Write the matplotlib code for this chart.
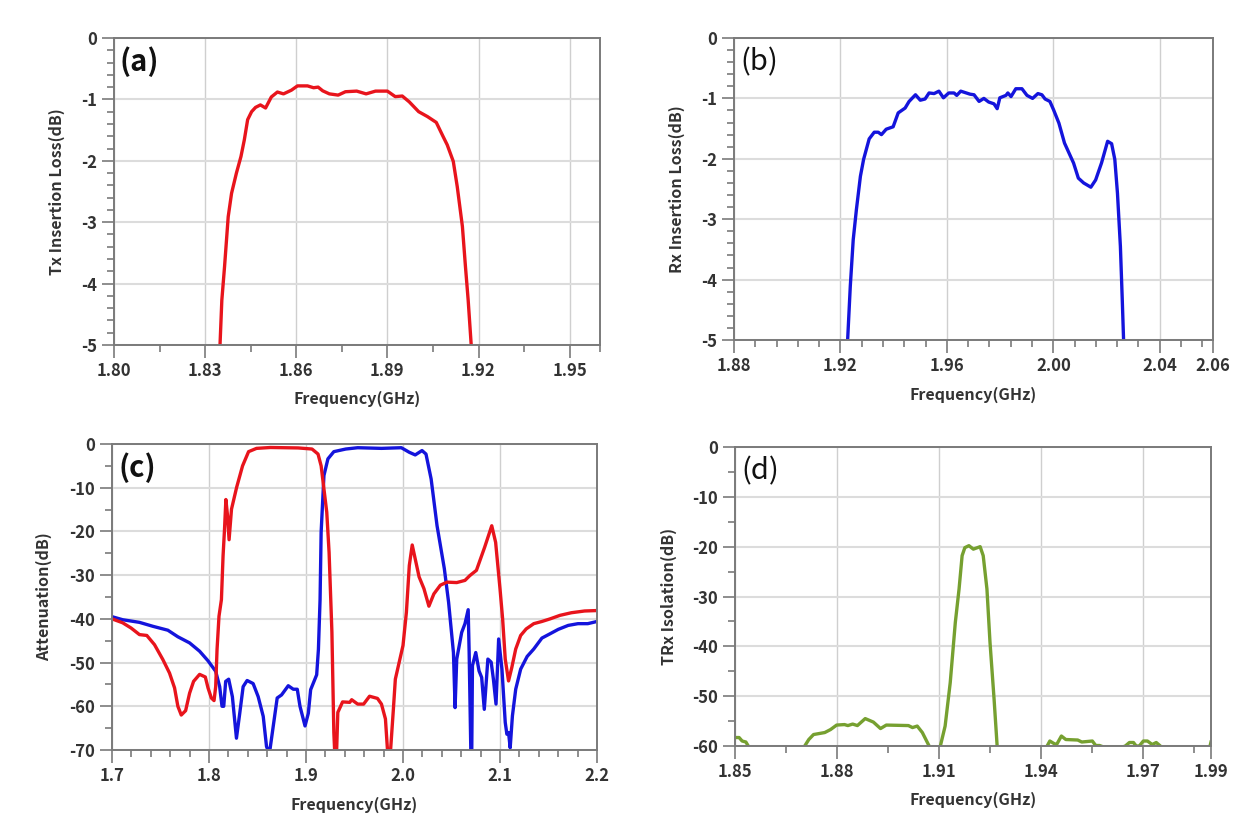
import numpy as np
import matplotlib
matplotlib.use('Agg')
import matplotlib.pyplot as plt

plt.rcParams['font.family'] = ['Noto Sans CJK JP', 'DejaVu Sans']

# (a) Tx insertion loss
tx_freq = [1.8349, 1.8355, 1.8364, 1.8376, 1.8387, 1.8403, 1.8418, 1.8429, 1.844, 1.8453, 1.8466, 1.8482, 1.8499,
           1.8518, 1.8538, 1.8558, 1.8584, 1.8604, 1.8637, 1.8657, 1.8672, 1.8687, 1.8709, 1.8738, 1.8762, 1.8799,
           1.883, 1.8861, 1.89, 1.8926, 1.8949, 1.8972, 1.9003, 1.9032, 1.9061, 1.9082, 1.9097, 1.9117, 1.913,
           1.9147, 1.9157, 1.9166, 1.9176]
tx_loss = [-5, -4.27, -3.72, -2.91, -2.53, -2.2, -1.93, -1.66, -1.33, -1.2, -1.13, -1.09, -1.14,
           -0.96, -0.88, -0.91, -0.85, -0.78, -0.78, -0.81, -0.8, -0.86, -0.91, -0.93, -0.875, -0.865,
           -0.91, -0.865, -0.865, -0.955, -0.945, -1.04, -1.2, -1.28, -1.375, -1.59, -1.74, -2.01, -2.42,
           -3.07, -3.72, -4.27, -5]

# (b) Rx insertion loss
rx_freq = [1.9227, 1.9237, 1.9248, 1.926, 1.9275, 1.9287, 1.9308, 1.9327, 1.9342, 1.9354, 1.9372, 1.9398, 1.9417,
           1.9443, 1.9458, 1.9482, 1.95, 1.9518, 1.9533, 1.9552, 1.957, 1.9587, 1.9607, 1.9627, 1.9637, 1.9652,
           1.9687, 1.9702, 1.9721, 1.9739, 1.9757, 1.9777, 1.9789, 1.9799, 1.9822, 1.9829, 1.9841, 1.9859, 1.9882,
           1.9901, 1.9922, 1.9942, 1.9957, 1.9969, 1.9987, 2.0001, 2.0021, 2.0042, 2.0076, 2.0094, 2.0114, 2.0141,
           2.0159, 2.0181, 2.0204, 2.0219, 2.0231, 2.0241, 2.0252, 2.0259, 2.0264]
rx_loss = [-5, -4.11, -3.34, -2.84, -2.29, -2.01, -1.67, -1.56, -1.56, -1.6, -1.51, -1.47, -1.24,
           -1.16, -1.05, -0.94, -1.03, -1.01, -0.91, -0.92, -0.88, -0.99, -0.91, -0.91, -0.95, -0.88,
           -0.93, -0.94, -1.05, -1.0, -1.06, -1.09, -1.17, -0.99, -0.95, -0.91, -0.97, -0.84, -0.84,
           -0.95, -1.0, -0.92, -0.94, -1.01, -1.05, -1.19, -1.41, -1.74, -2.07, -2.32, -2.4, -2.47,
           -2.35, -2.07, -1.71, -1.75, -2.01, -2.57, -3.45, -4.33, -5]

# (c) wide band attenuation
att_tx_freq = [1.7, 1.711, 1.7197, 1.7283, 1.7359, 1.7438, 1.7524, 1.7593, 1.7645, 1.7679, 1.7714, 1.7759, 1.78,
               1.7841, 1.7903, 1.7962, 1.799, 1.8024, 1.8052, 1.8069, 1.8083, 1.8103, 1.8128, 1.8145, 1.816, 1.8174,
               1.8191, 1.8207, 1.8232, 1.8285, 1.8346, 1.8408, 1.849, 1.8633, 1.8919, 1.9062, 1.9124, 1.9156, 1.9185,
               1.9214, 1.9238, 1.9267, 1.9287, 1.9295, 1.9316, 1.9328, 1.9377, 1.9451, 1.9471, 1.9533, 1.9594, 1.9655,
               1.9737, 1.9778, 1.9819, 1.984, 1.9872, 1.9901, 1.9921, 2.0, 2.0035, 2.0065, 2.0095, 2.0166, 2.0216,
               2.0267, 2.0318, 2.0385, 2.0453, 2.0554, 2.0639, 2.0689, 2.0757, 2.0842, 2.0915, 2.0955, 2.1, 2.1027,
               2.1054, 2.1088, 2.1122, 2.1162, 2.1213, 2.127, 2.1348, 2.1432, 2.1517, 2.1618, 2.1736, 2.1872, 2.2]
att_tx = [-40, -40.9, -42.1, -43.6, -43.8, -45.9, -49.3, -52.4, -55.8, -60, -62, -61, -57,
          -54.3, -52.7, -53.3, -55.8, -58.1, -58.7, -55.5, -47, -39.4, -35.6, -25.6, -19.5, -12.7,
          -16.4, -21.9, -14.9, -9.9, -5, -1.75, -1.0, -0.8, -0.9, -1.15, -2.3, -5, -10.3,
          -15.6, -24.8, -43, -66, -70, -70, -61.4, -59, -59.1, -58.5, -59.5, -59.5, -57.7,
          -58.2, -59.5, -62.9, -70, -70, -60.6, -53.8, -46.1, -38.5, -27.8, -23.1, -30.4, -33.1,
          -37.1, -34.3, -32.3, -31.6, -31.7, -31.2, -30.1, -28.9, -23.6, -18.7, -22.5, -33.1, -40,
          -49.2, -54.2, -51.1, -46.9, -43.8, -42.3, -41.1, -40.6, -40, -39.2, -38.6, -38.2, -38.1]
att_rx_freq = [1.7, 1.711, 1.7283, 1.7421, 1.7576, 1.7679, 1.78, 1.7903, 1.799, 1.8069, 1.811, 1.8134, 1.8152,
               1.8172, 1.8203, 1.8241, 1.8283, 1.8317, 1.8352, 1.8393, 1.8455, 1.8507, 1.8559, 1.8593, 1.8607, 1.8628,
               1.8662, 1.8703, 1.8748, 1.8817, 1.8869, 1.891, 1.8938, 1.899, 1.9024, 1.9048, 1.911, 1.9128, 1.9145,
               1.9156, 1.9185, 1.9226, 1.9287, 1.941, 1.9533, 1.9778, 1.9983, 2.0065, 2.0126, 2.0196, 2.0237, 2.029,
               2.0351, 2.0426, 2.047, 2.052, 2.0537, 2.0554, 2.0605, 2.0639, 2.0672, 2.0682, 2.0699, 2.0709, 2.0716,
               2.075, 2.0784, 2.0811, 2.0838, 2.0875, 2.0909, 2.0932, 2.0959, 2.0986, 2.102, 2.1054, 2.1071, 2.1088,
               2.1105, 2.1128, 2.1162, 2.1213, 2.128, 2.1348, 2.1432, 2.1517, 2.1601, 2.1703, 2.1804, 2.1905, 2.2]
att_rx = [-39.5, -40.2, -40.8, -41.7, -42.6, -44.1, -45.5, -47.4, -49.6, -52, -55.5, -60, -60,
          -54.3, -53.8, -57.8, -67.3, -61.6, -55.5, -54.1, -54.8, -57.8, -62.3, -69.2, -70, -70,
          -64.6, -58.1, -57.4, -55.3, -56.1, -56.1, -60, -64.5, -61.6, -56.2, -52.8, -47, -35.6,
          -20.2, -7.2, -3.4, -1.75, -1.15, -0.85, -1.0, -0.85, -1.9, -2.5, -1.5, -2.3, -8,
          -18.7, -28.5, -36.2, -47.7, -60.3, -49.2, -43.1, -41.1, -37.9, -47.7, -70, -70, -50.7,
          -47.7, -51.9, -53.4, -60.7, -49.2, -49.9, -53.8, -59.5, -44.6, -51.5, -63.7, -66.4, -66,
          -69.5, -62.2, -56.1, -51.5, -48.6, -46.9, -44.4, -43.4, -42.4, -41.5, -41.1, -41.1, -40.6]

# (d) TRx isolation, -62 means below the bottom of the axis
iso_freq = [1.85, 1.8512, 1.8521, 1.8532, 1.8539, 1.855, 1.869, 1.8705, 1.8717, 1.8731, 1.8764, 1.8781, 1.8799,
            1.8822, 1.8832, 1.8846, 1.886, 1.8883, 1.8907, 1.8928, 1.8945, 1.901, 1.9022, 1.9036, 1.9051, 1.9071,
            1.908, 1.9095, 1.9104, 1.9118, 1.9133, 1.9148, 1.9159, 1.9168, 1.9176, 1.9188, 1.9201, 1.9221, 1.923,
            1.9241, 1.925, 1.9262, 1.9271, 1.928, 1.941, 1.9418, 1.9426, 1.9438, 1.9446, 1.946, 1.9473, 1.9508,
            1.952, 1.9551, 1.9561, 1.9572, 1.9584, 1.964, 1.9648, 1.966, 1.9672, 1.968, 1.9689, 1.9701, 1.9713,
            1.9727, 1.9739, 1.9751, 1.976, 1.989, 1.99]
iso = [-58.3, -58.3, -59, -59.2, -60, -62, -62, -60, -58.7, -57.7, -57.3, -56.7, -55.8,
       -55.7, -55.9, -55.6, -55.9, -54.5, -55.2, -56.5, -55.8, -55.9, -56.3, -56, -57.3, -60,
       -62, -62, -60, -56, -47.3, -35.2, -28.5, -21.8, -20.2, -19.8, -20.5, -20, -21.8,
       -28.5, -39.2, -50.6, -60, -62, -62, -60, -59, -59.5, -59.7, -58, -58.7, -58.8,
       -59.2, -59, -59.9, -59.9, -60.2, -60.2, -60, -59.3, -59.3, -60, -60, -59, -59,
       -59.7, -59.3, -60, -62, -62, -59.2]

W, H = 1242, 833
GRAY = '#7a7a7a'
TEXT = '#333333'


def make_axes(fig, box, xlim, ylim, xmajor, xlabels, xminor, ymajor, yminor, ylabel, tag, tag_weight, xlab_y, ylab_x):
    # box is left, top, right, bottom in pixels
    l, t, r, b = box
    ax = fig.add_axes([l / W, 1 - b / H, (r - l) / W, (b - t) / H])
    ax.set_xlim(xlim)
    ax.set_ylim(ylim)
    ax.set_xticks(xmajor)
    ax.set_xticklabels(xlabels, fontsize=12, fontweight='bold', color=TEXT)
    ax.set_xticks(xminor, minor=True)
    ax.set_yticks(ymajor)
    ax.set_yticklabels([str(v) for v in ymajor], fontsize=12, fontweight='bold', color=TEXT)
    ax.set_yticks(yminor, minor=True)
    ax.tick_params(which='major', length=9, width=1.2, color=GRAY, pad=3)
    ax.tick_params(which='minor', length=5, width=1.2, color=GRAY)
    ax.xaxis.grid(True, which='major', color='#cfcfcf', lw=1.0)
    ax.yaxis.grid(True, which='major', color='#dcdcdc', lw=1.5)
    ax.set_axisbelow(True)
    for s in ax.spines.values():
        s.set_color(GRAY)
        s.set_linewidth(1.4)
    ax.text(0.5 * (l + r) / W, 1 - xlab_y / H, 'Frequency(GHz)', transform=fig.transFigure,
            ha='center', va='center', fontsize=11.5, fontweight='bold', color=TEXT)
    ax.text(ylab_x / W, 1 - 0.5 * (t + b) / H, ylabel, transform=fig.transFigure, rotation=90,
            ha='center', va='center', fontsize=11.5, fontweight='bold', color=TEXT)
    ax.text(l + 25, H - t - 24, tag, transform=None, fontsize=21, fontweight=tag_weight,
            color='#111111', ha='center', va='center')
    return ax


fig = plt.figure(figsize=(W / 100, H / 100), dpi=100)

ax_a = make_axes(fig, (114, 38, 600, 345), (1.80, 1.96), (-5, 0),
                 [1.80, 1.83, 1.86, 1.89, 1.92, 1.95], ['1.80', '1.83', '1.86', '1.89', '1.92', '1.95'],
                 np.arange(1.815, 1.96, 0.03).tolist() + [1.96],
                 [0, -1, -2, -3, -4, -5], np.arange(-5, 0, 0.2), 'Tx Insertion Loss(dB)', '(a)', 'bold', 399, 57)
ax_a.plot(tx_freq, tx_loss, color='#e8141c', lw=2.4)

ax_b = make_axes(fig, (734, 38, 1213, 340), (1.88, 2.06), (-5, 0),
                 [1.88, 1.92, 1.96, 2.00, 2.04, 2.06], ['1.88', '1.92', '1.96', '2.00', '2.04', '2.06'],
                 np.arange(1.88, 2.06, 0.008),
                 [0, -1, -2, -3, -4, -5], np.arange(-5, 0, 0.2), 'Rx Insertion Loss(dB)', '(b)', 'normal', 395, 677)
ax_b.plot(rx_freq, rx_loss, color='#1414dc', lw=2.4)

ax_c = make_axes(fig, (112, 444, 597, 750), (1.7, 2.2), (-70, 0),
                 [1.7, 1.8, 1.9, 2.0, 2.1, 2.2], ['1.7', '1.8', '1.9', '2.0', '2.1', '2.2'],
                 np.arange(1.7, 2.2, 0.02),
                 [0, -10, -20, -30, -40, -50, -60, -70], np.arange(-65, 0, 10), 'Attenuation(dB)', '(c)', 'bold', 805, 44)
ax_c.plot(att_rx_freq, att_rx, color='#1414dc', lw=2.4)
ax_c.plot(att_tx_freq, att_tx, color='#e8141c', lw=2.4)

ax_d = make_axes(fig, (735, 447, 1211, 746), (1.85, 1.99), (-60, 0),
                 [1.85, 1.88, 1.91, 1.94, 1.97, 1.99], ['1.85', '1.88', '1.91', '1.94', '1.97', '1.99'],
                 np.arange(1.865, 1.99, 0.03),
                 [0, -10, -20, -30, -40, -50, -60], np.arange(-55, 0, 10), 'TRx Isolation(dB)', '(d)', 'normal', 800, 669)
ax_d.plot(iso_freq, iso, color='#76a030', lw=2.4)

fig.savefig('out.png', dpi=100)
